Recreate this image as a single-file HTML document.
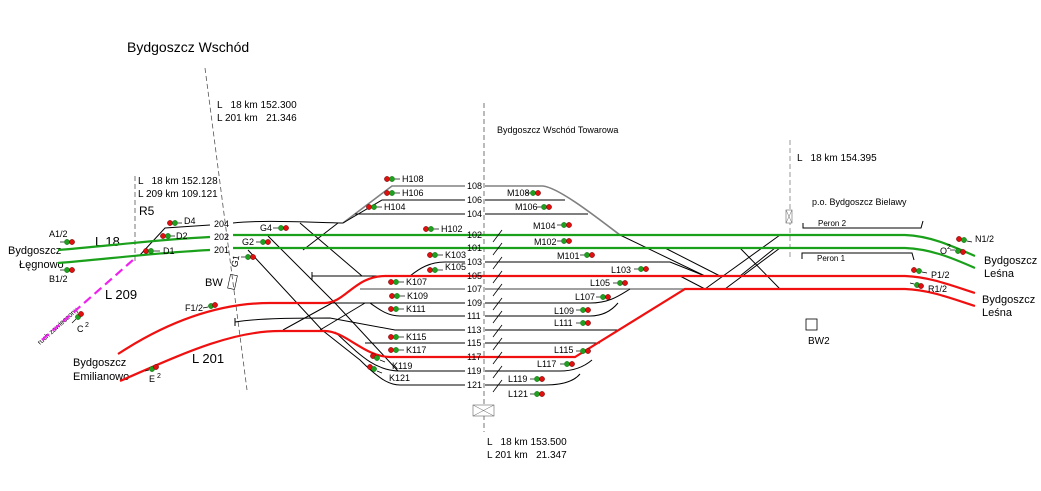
<!DOCTYPE html>
<html><head><meta charset="utf-8"><style>
html,body{margin:0;padding:0;background:#fff;}
svg{display:block;font-family:"Liberation Sans",Arial,sans-serif;}
text{white-space:pre}
.t{font-size:9px;fill:#000}
.k{font-size:10px;fill:#000}
.n{font-size:9px;fill:#000}
.b{stroke:#000;stroke-width:1;fill:none}
.g{stroke:#808080;stroke-width:1.6;fill:none}
.gr{stroke:#1aa01a;stroke-width:2.2;fill:none}
.r{stroke:#f01010;stroke-width:2.2;fill:none}
.rd{fill:#e01010;stroke:#600;stroke-width:.5}
.gn{fill:#20a020;stroke:#060;stroke-width:.5}
</style></head><body>
<svg width="1041" height="491" viewBox="0 0 1041 491" xml:space="preserve">
<line x1="205" y1="68" x2="247" y2="390" stroke="#555" stroke-dasharray="5,3" stroke-width="0.8"/>
<line x1="135" y1="176" x2="135" y2="262" stroke="#555" stroke-dasharray="5,3" stroke-width="0.8"/>
<line x1="484" y1="103" x2="484" y2="432" stroke="#555" stroke-dasharray="5,3" stroke-width="0.8"/>
<line x1="790" y1="140" x2="790" y2="260" stroke="#999" stroke-dasharray="5,3" stroke-width="1"/>

<text x="127" y="52" font-size="14">Bydgoszcz Wschód</text>
<text x="217" y="108" class="k">L   18 km 152.300</text>
<text x="217" y="121" class="k">L 201 km   21.346</text>
<text x="497" y="133" class="t">Bydgoszcz Wschód Towarowa</text>
<text x="797" y="161" class="k">L   18 km 154.395</text>
<text x="138" y="184" class="k">L   18 km 152.128</text>
<text x="138" y="197" class="k">L 209 km 109.121</text>
<text x="139" y="215" font-size="12">R5</text>
<text x="95" y="246" font-size="13">L 18</text>
<text x="105" y="299" font-size="13">L 209</text>
<text x="192" y="363" font-size="13">L 201</text>
<text x="205" y="286" font-size="11">BW</text>
<text x="8" y="254" font-size="11">Bydgoszcz</text>
<text x="19" y="268" font-size="11">Łęgnowo</text>
<text x="73" y="366" font-size="11">Bydgoszcz</text>
<text x="73" y="380" font-size="11">Emilianowo</text>
<text x="812" y="205" class="t">p.o. Bydgoszcz Bielawy</text>
<text x="818" y="226" font-size="8">Peron 2</text>
<text x="817" y="261" font-size="8">Peron 1</text>
<text x="984" y="264" font-size="11">Bydgoszcz</text>
<text x="984" y="277" font-size="11">Leśna</text>
<text x="982" y="303" font-size="11">Bydgoszcz</text>
<text x="982" y="316" font-size="11">Leśna</text>
<text x="808" y="344" font-size="10">BW2</text>
<text x="487" y="445" class="k">L   18 km 153.500</text>
<text x="487" y="458" class="k">L 201 km   21.347</text>
<text x="40" y="345" font-size="7" transform="rotate(-42 40 345)">ruch zawieszony</text>

<rect x="806" y="319" width="11" height="11" fill="none" stroke="#000" stroke-width="0.8"/>
<g transform="rotate(12 233 282)"><rect x="229" y="275" width="7" height="14" fill="none" stroke="#000" stroke-width="0.6"/></g>
<rect x="786" y="210" width="6" height="13" fill="#fff" stroke="#666" stroke-width="0.6"/>
<path d="M786 210 L792 223 M792 210 L786 223" stroke="#666" stroke-width="0.5"/>
<rect x="473" y="405" width="21" height="11" fill="#fff" stroke="#666" stroke-width="0.6"/>
<path d="M473 405 L494 416 M494 405 L473 416" stroke="#666" stroke-width="0.5"/>

<path d="M803 223 V228 H921 L923 221" class="b"/>
<path d="M802 259 V253 H912 L914 260" class="b"/>

<line x1="42" y1="340" x2="133" y2="260" stroke="#ee22ee" stroke-width="2.2" stroke-dasharray="9,5"/>

<path d="M140 255 L165 228 L210 225" class="b"/>
<path d="M233 223 C260 220 300 222 343 223" class="b"/>
<path d="M343 223 L392 186 H465" class="g"/>
<path d="M343 223 L382 200 H465" class="b"/>
<path d="M355 214 H465" class="b"/>
<path d="M300 223 L362 276" class="b"/>
<path d="M338 223 L303 250" class="b"/>
<path d="M268 236 L335 303 L398 371" class="b"/>
<path d="M248 250 L322 330 L360 360 C380 380 390 385 400 385 H465" class="b"/>
<path d="M335 332 C360 355 375 371 400 371 H465" class="b"/>
<path d="M312 272 V280 M312 276 H385" class="b"/>
<path d="M360 289 H465" class="g"/>
<path d="M325 303 H465" class="b"/>
<path d="M370 303 C380 310 388 316 400 316 H465" class="b"/>
<path d="M235 318 V326 M235 322 C260 318 300 318 330 318 L395 330 H465" class="b"/>
<path d="M283 330 L332 303 M320 330 L365 303" class="b"/>
<path d="M365 343 H465" class="b"/>
<path d="M410 276 C420 268 430 262 445 262 H465" class="b"/>

<path d="M485 186 H543 C560 188 600 220 620 235" class="g"/>
<path d="M485 200 H565" class="b"/>
<path d="M485 214 H588" class="b"/>
<path d="M485 262 H670 L705 276" class="b"/>
<path d="M485 289 H685" class="g"/>
<path d="M485 303 H590 C610 303 620 295 630 289" class="b"/>
<path d="M485 316 H590 C605 316 613 309 618 303" class="b"/>
<path d="M485 330 H620" class="b"/>
<path d="M485 343 H600" class="b"/>
<path d="M485 371 H560 C575 371 585 366 592 360" class="b"/>
<path d="M485 385 H545 C565 385 575 380 580 374" class="b"/>
<path d="M620 235 L705 276" class="b"/>
<path d="M665 248 L720 276" class="b"/>
<path d="M705 289 L780 235" class="b"/>
<path d="M725 289 L780 248" class="b"/>
<path d="M740 276 L775 248" class="b"/>
<path d="M740 248 L780 289" class="b"/>
<path d="M680 276 L705 289" class="b"/>

<path d="M58 250 C100 247 150 240 210 237" class="gr"/>
<path d="M58 263 C100 260 150 253 210 250" class="gr"/>
<path d="M233 235 H905 C930 236 950 245 975 256" class="gr"/>
<path d="M233 248 H905 C930 249 950 257 975 268" class="gr"/>
<path d="M118 354 C170 320 220 303 270 303 H325 C345 303 355 276 385 276 H905 C930 277 950 285 975 293" class="r"/>
<path d="M120 381 C180 355 230 331 280 331 H325 C345 331 365 357 390 357 H575 L685 289 H905 C930 290 950 298 975 306" class="r"/>

<g class="n">
<text x="467" y="189">108</text><text x="467" y="203">106</text><text x="467" y="217">104</text>
<text x="467" y="238">102</text><text x="467" y="251">101</text><text x="467" y="265">103</text>
<text x="467" y="279">105</text><text x="467" y="292">107</text><text x="467" y="306">109</text>
<text x="467" y="319">111</text><text x="467" y="333">113</text><text x="467" y="346">115</text>
<text x="467" y="360">117</text><text x="467" y="374">119</text><text x="467" y="388">121</text>
<text x="214" y="227">204</text><text x="214" y="240">202</text><text x="214" y="253">201</text>
</g>

<g stroke="#000" stroke-width="0.8">
<path d="M493 242 L502 230 M493 255 L502 243 M493 269 L502 257 M493 283 L502 271 M493 296 L502 284 M493 310 L502 298 M493 323 L502 311 M493 337 L502 325 M493 350 L502 338 M493 364 L502 352 M493 378 L502 366 M493 392 L502 380"/>
</g>

<g>
<circle cx="387" cy="179" r="2.6" class="rd"/><circle cx="392" cy="179" r="2.6" class="gn"/><line x1="395" y1="179" x2="400" y2="179" stroke="#000" stroke-width=".7"/><text x="402" y="182" class="t">H108</text>
<circle cx="387" cy="193" r="2.6" class="rd"/><circle cx="392" cy="193" r="2.6" class="gn"/><line x1="395" y1="193" x2="400" y2="193" stroke="#000" stroke-width=".7"/><text x="402" y="196" class="t">H106</text>
<circle cx="369" cy="207" r="2.6" class="rd"/><circle cx="374" cy="207" r="2.6" class="gn"/><line x1="377" y1="207" x2="382" y2="207" stroke="#000" stroke-width=".7"/><text x="384" y="210" class="t">H104</text>
<circle cx="426" cy="229" r="2.6" class="rd"/><circle cx="431" cy="229" r="2.6" class="gn"/><line x1="434" y1="229" x2="439" y2="229" stroke="#000" stroke-width=".7"/><text x="441" y="232" class="t">H102</text>
<circle cx="430" cy="255" r="2.6" class="rd"/><circle cx="435" cy="255" r="2.6" class="gn"/><line x1="438" y1="255" x2="443" y2="255" stroke="#000" stroke-width=".7"/><text x="445" y="258" class="t">K103</text>
<circle cx="430" cy="270" r="2.6" class="rd"/><circle cx="435" cy="270" r="2.6" class="gn"/><line x1="438" y1="270" x2="443" y2="270" stroke="#000" stroke-width=".7"/><text x="445" y="270" class="t">K105</text>
<circle cx="391" cy="282" r="2.6" class="rd"/><circle cx="396" cy="282" r="2.6" class="gn"/><line x1="399" y1="282" x2="404" y2="282" stroke="#000" stroke-width=".7"/><text x="406" y="285" class="t">K107</text>
<circle cx="392" cy="296" r="2.6" class="rd"/><circle cx="397" cy="296" r="2.6" class="gn"/><line x1="400" y1="296" x2="405" y2="296" stroke="#000" stroke-width=".7"/><text x="407" y="299" class="t">K109</text>
<circle cx="391" cy="309" r="2.6" class="rd"/><circle cx="396" cy="309" r="2.6" class="gn"/><line x1="399" y1="309" x2="404" y2="309" stroke="#000" stroke-width=".7"/><text x="406" y="312" class="t">K111</text>
<circle cx="391" cy="337" r="2.6" class="rd"/><circle cx="396" cy="337" r="2.6" class="gn"/><line x1="399" y1="337" x2="404" y2="337" stroke="#000" stroke-width=".7"/><text x="406" y="340" class="t">K115</text>
<circle cx="391" cy="350" r="2.6" class="rd"/><circle cx="396" cy="350" r="2.6" class="gn"/><line x1="399" y1="350" x2="404" y2="350" stroke="#000" stroke-width=".7"/><text x="406" y="353" class="t">K117</text>
<circle cx="373" cy="356" r="2.6" class="rd"/><circle cx="377" cy="358" r="2.6" class="gn"/><line x1="380" y1="360" x2="385" y2="362" stroke="#000" stroke-width=".7"/><text x="392" y="369" class="t">K119</text>
<circle cx="370" cy="367" r="2.6" class="rd"/><circle cx="374" cy="369" r="2.6" class="gn"/><line x1="377" y1="371" x2="382" y2="373" stroke="#000" stroke-width=".7"/><text x="389" y="381" class="t">K121</text>
<circle cx="170" cy="223" r="2.6" class="rd"/><circle cx="175" cy="223" r="2.6" class="gn"/><line x1="178" y1="223" x2="182" y2="223" stroke="#000" stroke-width=".7"/><text x="184" y="224" class="t">D4</text>
<circle cx="163" cy="236" r="2.6" class="rd"/><circle cx="168" cy="236" r="2.6" class="gn"/><line x1="171" y1="236" x2="175" y2="236" stroke="#000" stroke-width=".7"/><text x="176" y="239" class="t">D2</text>
<circle cx="146" cy="251" r="2.6" class="rd"/><circle cx="151" cy="251" r="2.6" class="gn"/><line x1="154" y1="251" x2="160" y2="251" stroke="#000" stroke-width=".7"/><text x="163" y="254" class="t">D1</text>
<circle cx="67" cy="242" r="2.6" class="gn"/><circle cx="72" cy="242" r="2.6" class="rd"/><line x1="60" y1="242" x2="64" y2="242" stroke="#000" stroke-width=".7"/><text x="49" y="237" class="t">A1/2</text>
<circle cx="67" cy="270" r="2.6" class="gn"/><circle cx="72" cy="270" r="2.6" class="rd"/><line x1="60" y1="270" x2="64" y2="270" stroke="#000" stroke-width=".7"/><text x="49" y="282" class="t">B1/2</text>
<circle cx="78" cy="317" r="2.6" class="gn"/><circle cx="81" cy="314" r="2.6" class="rd"/><line x1="72" y1="323" x2="76" y2="319" stroke="#000" stroke-width=".7"/><text x="77" y="332" class="t">C</text><text x="85" y="327" font-size="7">2</text>
<circle cx="152" cy="369" r="2.6" class="gn"/><circle cx="156" cy="367" r="2.6" class="rd"/><line x1="145" y1="371" x2="149" y2="370" stroke="#000" stroke-width=".7"/><text x="149" y="382" class="t">E</text><text x="157" y="378" font-size="7">2</text>
<circle cx="211" cy="306" r="2.6" class="gn"/><circle cx="215" cy="305" r="2.6" class="rd"/><line x1="203" y1="308" x2="208" y2="307" stroke="#000" stroke-width=".7"/><text x="185" y="311" class="t">F1/2</text>
<circle cx="281" cy="228" r="2.6" class="gn"/><circle cx="286" cy="228" r="2.6" class="rd"/><line x1="273" y1="228" x2="278" y2="228" stroke="#000" stroke-width=".7"/><text x="260" y="231" class="t">G4</text>
<circle cx="263" cy="242" r="2.6" class="gn"/><circle cx="268" cy="242" r="2.6" class="rd"/><line x1="256" y1="242" x2="260" y2="242" stroke="#000" stroke-width=".7"/><text x="242" y="245" class="t">G2</text>
<circle cx="248" cy="257" r="2.6" class="gn"/><circle cx="253" cy="257" r="2.6" class="rd"/><line x1="241" y1="257" x2="245" y2="257" stroke="#000" stroke-width=".7"/><text x="230" y="267" class="t" transform="rotate(-80 234 263)">G1</text>
<circle cx="533" cy="193" r="2.6" class="gn"/><circle cx="538" cy="193" r="2.6" class="rd"/><line x1="526" y1="193" x2="530" y2="193" stroke="#000" stroke-width=".7"/><text x="507" y="196" class="t">M108</text>
<circle cx="544" cy="207" r="2.6" class="gn"/><circle cx="549" cy="207" r="2.6" class="rd"/><line x1="537" y1="207" x2="541" y2="207" stroke="#000" stroke-width=".7"/><text x="515" y="210" class="t">M106</text>
<circle cx="564" cy="225" r="2.6" class="gn"/><circle cx="569" cy="225" r="2.6" class="rd"/><line x1="557" y1="225" x2="561" y2="225" stroke="#000" stroke-width=".7"/><text x="533" y="229" class="t">M104</text>
<circle cx="564" cy="241" r="2.6" class="gn"/><circle cx="569" cy="241" r="2.6" class="rd"/><line x1="557" y1="241" x2="561" y2="241" stroke="#000" stroke-width=".7"/><text x="534" y="245" class="t">M102</text>
<circle cx="587" cy="255" r="2.6" class="gn"/><circle cx="592" cy="255" r="2.6" class="rd"/><line x1="580" y1="255" x2="584" y2="255" stroke="#000" stroke-width=".7"/><text x="557" y="259" class="t">M101</text>
<circle cx="641" cy="269" r="2.6" class="gn"/><circle cx="646" cy="269" r="2.6" class="rd"/><line x1="634" y1="269" x2="638" y2="269" stroke="#000" stroke-width=".7"/><text x="611" y="273" class="t">L103</text>
<circle cx="620" cy="283" r="2.6" class="gn"/><circle cx="625" cy="283" r="2.6" class="rd"/><line x1="613" y1="283" x2="617" y2="283" stroke="#000" stroke-width=".7"/><text x="590" y="286" class="t">L105</text>
<circle cx="603" cy="297" r="2.6" class="gn"/><circle cx="608" cy="297" r="2.6" class="rd"/><line x1="596" y1="297" x2="600" y2="297" stroke="#000" stroke-width=".7"/><text x="575" y="300" class="t">L107</text>
<circle cx="583" cy="310" r="2.6" class="gn"/><circle cx="588" cy="310" r="2.6" class="rd"/><line x1="576" y1="310" x2="580" y2="310" stroke="#000" stroke-width=".7"/><text x="554" y="314" class="t">L109</text>
<circle cx="583" cy="323" r="2.6" class="gn"/><circle cx="588" cy="323" r="2.6" class="rd"/><line x1="576" y1="323" x2="580" y2="323" stroke="#000" stroke-width=".7"/><text x="554" y="326" class="t">L111</text>
<circle cx="583" cy="351" r="2.6" class="gn"/><circle cx="588" cy="351" r="2.6" class="rd"/><line x1="576" y1="351" x2="580" y2="351" stroke="#000" stroke-width=".7"/><text x="554" y="353" class="t">L115</text>
<circle cx="567" cy="364" r="2.6" class="gn"/><circle cx="572" cy="364" r="2.6" class="rd"/><line x1="560" y1="364" x2="564" y2="364" stroke="#000" stroke-width=".7"/><text x="537" y="367" class="t">L117</text>
<circle cx="537" cy="379" r="2.6" class="gn"/><circle cx="542" cy="379" r="2.6" class="rd"/><line x1="530" y1="379" x2="534" y2="379" stroke="#000" stroke-width=".7"/><text x="508" y="382" class="t">L119</text>
<circle cx="537" cy="394" r="2.6" class="gn"/><circle cx="542" cy="394" r="2.6" class="rd"/><line x1="530" y1="394" x2="534" y2="394" stroke="#000" stroke-width=".7"/><text x="508" y="397" class="t">L121</text>
<circle cx="959" cy="239" r="2.6" class="rd"/><circle cx="964" cy="240" r="2.6" class="gn"/><line x1="967" y1="241" x2="972" y2="242" stroke="#000" stroke-width=".7"/><text x="975" y="242" class="t">N1/2</text>
<circle cx="958" cy="251" r="2.6" class="gn"/><circle cx="963" cy="252" r="2.6" class="rd"/><line x1="950" y1="250" x2="955" y2="250" stroke="#000" stroke-width=".7"/><text x="940" y="254" class="t">O</text><text x="947" y="249" font-size="7">2</text>
<circle cx="914" cy="270" r="2.6" class="rd"/><circle cx="919" cy="271" r="2.6" class="gn"/><line x1="922" y1="272" x2="927" y2="273" stroke="#000" stroke-width=".7"/><text x="931" y="278" class="t">P1/2</text>
<circle cx="917" cy="285" r="2.6" class="gn"/><circle cx="921" cy="286" r="2.6" class="rd"/><line x1="910" y1="283" x2="914" y2="284" stroke="#000" stroke-width=".7"/><text x="928" y="292" class="t">R1/2</text>
</g>
</svg>
</body></html>
